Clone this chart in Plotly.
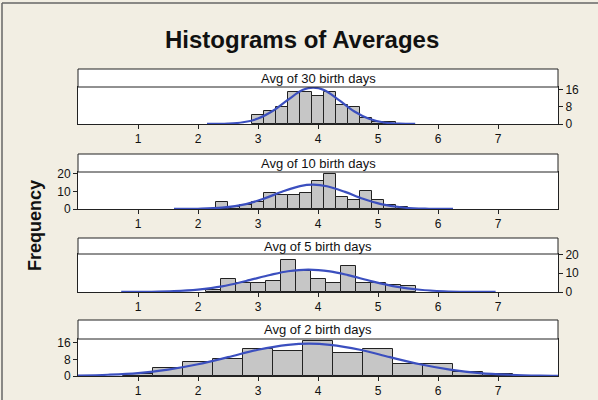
import plotly.graph_objects as go

W, H = 598, 400

# ---------------- data ----------------
panel_titles = ["Avg of 30 birth days", "Avg of 10 birth days", "Avg of 5 birth days", "Avg of 2 birth days"]

bins30 = [3.0, 3.2, 3.4, 3.6, 3.8, 4.0, 4.2, 4.4, 4.6, 4.8, 5.0, 5.2]
freq30 = [4, 6, 8, 15, 15, 13, 15, 9, 8, 3, 1, 1]
fitx30 = [2.15, 2.5, 2.75, 3.0, 3.25, 3.5, 3.75, 3.92, 4.1, 4.35, 4.6, 4.85, 5.1, 5.35, 5.62]
fity30 = [0.02, 0.18, 0.8, 2.5, 6.1, 11.2, 15.8, 16.8, 15.7, 11.0, 5.9, 2.4, 0.7, 0.17, 0.03]

bins10 = [2.4, 2.6, 2.8, 3.0, 3.2, 3.4, 3.6, 3.8, 4.0, 4.2, 4.4, 4.6, 4.8, 5.0, 5.2, 5.4]
freq10 = [4, 1, 2, 4, 9, 8, 8, 9, 16, 20, 7, 5, 10, 5, 2, 1]
fitx10 = [1.6, 2.0, 2.4, 2.8, 3.1, 3.4, 3.7, 3.92, 4.15, 4.45, 4.75, 5.05, 5.45, 5.85, 6.25]
fity10 = [0.02, 0.13, 0.75, 2.8, 5.9, 9.8, 13.0, 13.8, 12.9, 9.7, 5.8, 2.8, 0.72, 0.13, 0.02]

bins5 = [2.25, 2.5, 2.75, 3.0, 3.25, 3.5, 3.75, 4.0, 4.25, 4.5, 4.75, 5.0, 5.25, 5.5]
freq5 = [1, 7, 5, 5, 6, 17, 11, 7, 5, 14, 5, 5, 4, 3]
fitx5 = [0.72, 1.2, 1.6, 2.0, 2.4, 2.8, 3.2, 3.5, 3.84, 4.2, 4.5, 4.9, 5.3, 5.7, 6.1, 6.5, 6.96]
fity5 = [0.02, 0.12, 0.44, 1.3, 3.0, 5.9, 9.1, 11.1, 12.0, 11.0, 9.0, 5.7, 2.9, 1.2, 0.41, 0.11, 0.02]

bins2 = [1.0, 1.5, 2.0, 2.5, 3.0, 3.5, 4.0, 4.5, 5.0, 5.5, 6.0, 6.5, 7.0]
freq2 = [1, 4, 7, 8, 13, 12, 17, 11, 13, 6, 6, 2, 1]
fitx2 = [0.0, 0.5, 1.0, 1.5, 2.0, 2.5, 3.0, 3.5, 3.85, 4.2, 4.7, 5.2, 5.7, 6.2, 6.7, 7.2, 7.7, 8.0]
fity2 = [0.2, 0.6, 1.4, 3.1, 5.7, 9.1, 12.7, 15.1, 15.7, 15.1, 12.7, 9.1, 5.7, 3.1, 1.4, 0.6, 0.2, 0.1]

bin_widths = [0.2, 0.2, 0.25, 0.5]
x_ticks = [1, 2, 3, 4, 5, 6, 7]
y_ticks = [[0, 8, 16], [0, 10, 20], [0, 10, 20], [0, 8, 16]]
y_max = [17.1, 21.0, 20.3, 17.9]
y_side = ["right", "left", "right", "left"]

# ---------------- layout (pixel geometry) ----------------
box_left, box_right = 78, 558
strip_top = [69, 154, 238, 320]
plot_top = [87, 172, 254, 339]
plot_bot = [124, 209, 292, 376]

def fx(px):
    return px / W

def fy(py):
    return 1 - py / H

BG = "#F2EEE3"
BAR = "#C6C6C6"
BLUE = "#3B4FBF"
TICKFONT = dict(family="Liberation Sans, Arial", size=12, color="#111")

fig = go.Figure()
panels = [(bins30, freq30, fitx30, fity30), (bins10, freq10, fitx10, fity10),
          (bins5, freq5, fitx5, fity5), (bins2, freq2, fitx2, fity2)]

shapes = []
annotations = []
for i, (bx, by, cx, cy) in enumerate(panels):
    n = "" if i == 0 else str(i + 1)
    fig.add_trace(go.Bar(x=bx, y=by, width=bin_widths[i], marker=dict(color=BAR, line=dict(color="#222", width=1)),
                         xaxis="x" + n, yaxis="y" + n, showlegend=False))
    fig.add_trace(go.Scatter(x=cx, y=cy, mode="lines", line=dict(color=BLUE, width=2.2, shape="spline"),
                             xaxis="x" + n, yaxis="y" + n, showlegend=False))
    fig.layout["xaxis" + n] = dict(domain=[fx(box_left), fx(box_right)], range=[0, 8], anchor="y" + n,
                                   tickvals=x_ticks, ticks="outside", ticklen=4, tickcolor="#222",
                                   showline=True, mirror=True, linecolor="#222", linewidth=1, automargin=False,
                                   showgrid=False, zeroline=False, tickfont=TICKFONT, fixedrange=True)
    fig.layout["yaxis" + n] = dict(domain=[fy(plot_bot[i]), fy(plot_top[i])], range=[0, y_max[i]], anchor="x" + n,
                                   side=y_side[i], tickvals=y_ticks[i], ticks="outside", ticklen=4, tickcolor="#222",
                                   showline=True, mirror=True, linecolor="#222", linewidth=1, automargin=False,
                                   showgrid=False, zeroline=False, tickfont=TICKFONT, fixedrange=True)
    shapes.append(dict(type="rect", xref="paper", yref="paper", x0=fx(box_left), x1=fx(box_right),
                       y0=fy(plot_top[i]), y1=fy(strip_top[i]), fillcolor="white", line=dict(color="#222", width=1)))
    annotations.append(dict(text=panel_titles[i], xref="paper", yref="paper",
                            x=fx((box_left + box_right) / 2), y=fy((strip_top[i] + plot_top[i]) / 2),
                            showarrow=False, xanchor="center", yanchor="middle",
                            font=dict(family="Liberation Sans, Arial", size=13, color="#111")))

# frame lines (left and top)
shapes.append(dict(type="line", xref="paper", yref="paper", x0=fx(2), x1=fx(2), y0=fy(3), y1=0,
                   line=dict(color="#666", width=1.5)))
shapes.append(dict(type="line", xref="paper", yref="paper", x0=fx(2), x1=1, y0=fy(3), y1=fy(3),
                   line=dict(color="#666", width=1.5)))

annotations.append(dict(text="<b>Histograms of Averages</b>", xref="paper", yref="paper", x=fx(302), y=fy(40),
                        showarrow=False, xanchor="center", yanchor="middle",
                        font=dict(family="Liberation Sans, Arial", size=24, color="#111")))
annotations.append(dict(text="<b>Frequency</b>", xref="paper", yref="paper", x=fx(35), y=fy(226),
                        showarrow=False, xanchor="center", yanchor="middle", textangle=-90,
                        font=dict(family="Liberation Sans, Arial", size=18, color="#111")))

fig.update_layout(width=W, height=H, autosize=False, margin=dict(l=0, r=0, t=0, b=0, pad=0),
                  paper_bgcolor=BG, plot_bgcolor="white", barmode="overlay", bargap=0,
                  shapes=shapes, annotations=annotations)

fig.write_html("out.html", config={"displayModeBar": False},
               post_script="document.body.style.margin='0';document.body.style.overflow='hidden';")
